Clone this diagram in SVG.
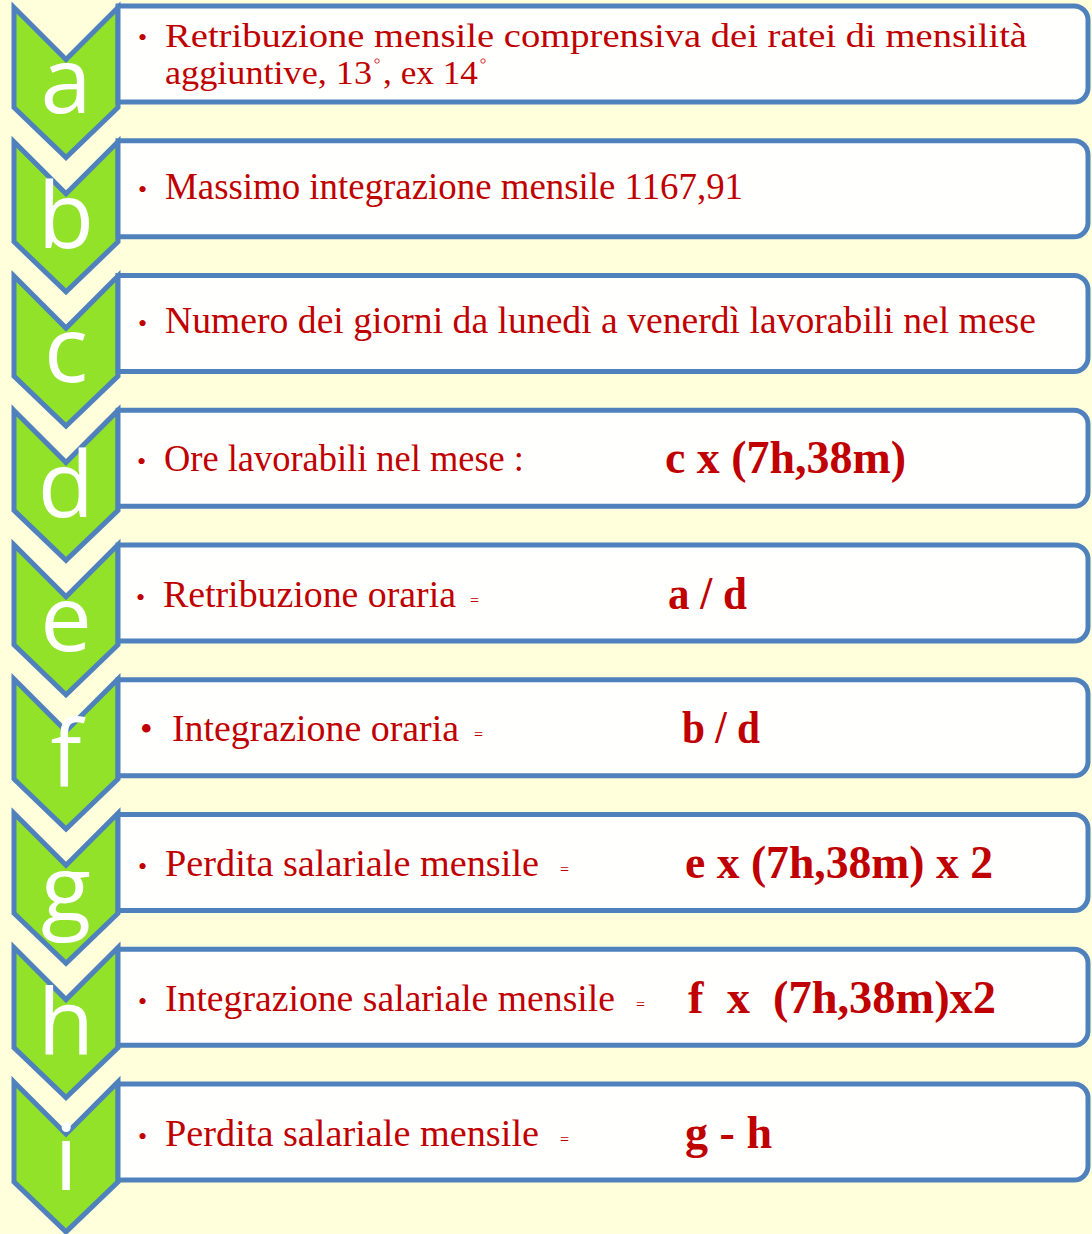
<svg xmlns="http://www.w3.org/2000/svg" xmlns:xlink="http://www.w3.org/1999/xlink" width="1092" height="1234" viewBox="0 0 1092 1234">
<style>
.bg{fill:#FFFFDC}
.chev{fill:#92E22A;stroke:#4F81BD;stroke-width:5;stroke-linejoin:miter}
.box{fill:#FFFFFE;stroke:#4F81BD;stroke-width:5;stroke-linejoin:miter}
.deg{fill:none;stroke:#C00000;stroke-width:0.8}
</style>
<defs>
<polygon id="chevShape" points="14,0 66,52 118,0 118,100 66,150 14,100"/>
<path id="boxShape" d="M118,0 H1074 A14,14 0 0 1 1088,14 V82 A14,14 0 0 1 1074,96 H118 Z"/>
</defs>
<rect class="bg" x="0" y="0" width="1092" height="1234"/>
<g id="connectors"></g>

<g id="node-a">
<use xlink:href="#chevShape" class="chev" y="7.5"/>
<use xlink:href="#boxShape" class="box" y="6"/>
<text x="66" y="113" font-family="Open Sans, sans-serif" font-size="92" fill="#FFFFFF" text-anchor="middle">a</text>
<text x="138" y="46" font-family="Liberation Serif, serif" font-size="26" fill="#C00000">•</text>
<text x="165" y="47" font-family="Liberation Serif, serif" font-size="33" fill="#C00000" textLength="862" lengthAdjust="spacingAndGlyphs">Retribuzione mensile comprensiva  dei ratei   di mensilità</text>
<text x="165" y="84" font-family="Liberation Serif, serif" font-size="33" fill="#C00000" textLength="207" lengthAdjust="spacingAndGlyphs">aggiuntive, 13</text>
<circle class="deg" cx="377" cy="61" r="2.2"/>
<text x="383" y="84" font-family="Liberation Serif, serif" font-size="33" fill="#C00000" textLength="95" lengthAdjust="spacingAndGlyphs">, ex 14</text>
<circle class="deg" cx="483" cy="61" r="2.2"/>
</g>

<g id="node-b">
<use xlink:href="#chevShape" class="chev" y="141.8"/>
<use xlink:href="#boxShape" class="box" y="140.75"/>
<text x="66" y="247.6" font-family="Open Sans, sans-serif" font-size="92" fill="#FFFFFF" text-anchor="middle">b</text>
<text x="138" y="198" font-family="Liberation Serif, serif" font-size="26" fill="#C00000">•</text>
<text x="165" y="199" font-family="Liberation Serif, serif" font-size="37" fill="#C00000" textLength="578" lengthAdjust="spacingAndGlyphs">Massimo integrazione mensile  1167,91</text>
</g>

<g id="node-c">
<use xlink:href="#chevShape" class="chev" y="276.1"/>
<use xlink:href="#boxShape" class="box" y="275.5"/>
<text x="66" y="382.2" font-family="Open Sans, sans-serif" font-size="92" fill="#FFFFFF" text-anchor="middle">c</text>
<text x="138" y="332" font-family="Liberation Serif, serif" font-size="26" fill="#C00000">•</text>
<text x="165" y="333" font-family="Liberation Serif, serif" font-size="37" fill="#C00000" textLength="871" lengthAdjust="spacingAndGlyphs">Numero dei giorni da lunedì a venerdì  lavorabili nel mese</text>
</g>

<g id="node-d">
<use xlink:href="#chevShape" class="chev" y="410.4"/>
<use xlink:href="#boxShape" class="box" y="410.25"/>
<text x="66" y="516.8" font-family="Open Sans, sans-serif" font-size="92" fill="#FFFFFF" text-anchor="middle">d</text>
<text x="137" y="470" font-family="Liberation Serif, serif" font-size="26" fill="#C00000">•</text>
<text x="164" y="471" font-family="Liberation Serif, serif" font-size="37" fill="#C00000" textLength="360" lengthAdjust="spacingAndGlyphs">Ore lavorabili nel mese :</text>
<text x="665" y="473" font-family="Liberation Serif, serif" font-size="46" font-weight="bold" fill="#C00000" textLength="241" lengthAdjust="spacingAndGlyphs">c x (7h,38m)</text>
</g>

<g id="node-e">
<use xlink:href="#chevShape" class="chev" y="544.7"/>
<use xlink:href="#boxShape" class="box" y="545"/>
<text x="66" y="651.4" font-family="Open Sans, sans-serif" font-size="92" fill="#FFFFFF" text-anchor="middle">e</text>
<text x="136" y="606" font-family="Liberation Serif, serif" font-size="26" fill="#C00000">•</text>
<text x="163" y="607" font-family="Liberation Serif, serif" font-size="37" fill="#C00000" textLength="293" lengthAdjust="spacingAndGlyphs">Retribuzione oraria</text>
<text x="470" y="606" font-family="Liberation Serif, serif" font-size="16" fill="#C00000">=</text>
<text x="668" y="609" font-family="Liberation Serif, serif" font-size="46" font-weight="bold" fill="#C00000" textLength="79" lengthAdjust="spacingAndGlyphs">a / d</text>
</g>

<g id="node-f">
<use xlink:href="#chevShape" class="chev" y="679"/>
<use xlink:href="#boxShape" class="box" y="679.75"/>
<text x="66" y="786" font-family="Open Sans, sans-serif" font-size="92" fill="#FFFFFF" text-anchor="middle">f</text>
<text x="140" y="741" font-family="Liberation Serif, serif" font-size="36" fill="#C00000">•</text>
<text x="172" y="741" font-family="Liberation Serif, serif" font-size="37" fill="#C00000" textLength="287" lengthAdjust="spacingAndGlyphs">Integrazione oraria</text>
<text x="474" y="740" font-family="Liberation Serif, serif" font-size="16" fill="#C00000">=</text>
<text x="682" y="743" font-family="Liberation Serif, serif" font-size="46" font-weight="bold" fill="#C00000" textLength="78" lengthAdjust="spacingAndGlyphs">b / d</text>
</g>

<g id="node-g">
<use xlink:href="#chevShape" class="chev" y="813.3"/>
<use xlink:href="#boxShape" class="box" y="814.5"/>
<text x="66" y="920.6" font-family="Open Sans, sans-serif" font-size="92" fill="#FFFFFF" text-anchor="middle">g</text>
<text x="138" y="875" font-family="Liberation Serif, serif" font-size="26" fill="#C00000">•</text>
<text x="165" y="876" font-family="Liberation Serif, serif" font-size="37" fill="#C00000" textLength="374" lengthAdjust="spacingAndGlyphs">Perdita salariale mensile</text>
<text x="560" y="875" font-family="Liberation Serif, serif" font-size="16" fill="#C00000">=</text>
<text x="685" y="878" font-family="Liberation Serif, serif" font-size="46" font-weight="bold" fill="#C00000" textLength="308" lengthAdjust="spacingAndGlyphs">e x (7h,38m) x 2</text>
</g>

<g id="node-h">
<use xlink:href="#chevShape" class="chev" y="947.6"/>
<use xlink:href="#boxShape" class="box" y="949.25"/>
<text x="66" y="1055.2" font-family="Open Sans, sans-serif" font-size="92" fill="#FFFFFF" text-anchor="middle">h</text>
<text x="138" y="1010" font-family="Liberation Serif, serif" font-size="26" fill="#C00000">•</text>
<text x="165" y="1011" font-family="Liberation Serif, serif" font-size="37" fill="#C00000" textLength="450" lengthAdjust="spacingAndGlyphs">Integrazione salariale mensile</text>
<text x="636" y="1010" font-family="Liberation Serif, serif" font-size="16" fill="#C00000">=</text>
<text x="688" y="1013" font-family="Liberation Serif, serif" font-size="46" font-weight="bold" fill="#C00000" textLength="308" lengthAdjust="spacingAndGlyphs" xml:space="preserve">f  x  (7h,38m)x2</text>
</g>

<g id="node-i">
<use xlink:href="#chevShape" class="chev" y="1081.9"/>
<use xlink:href="#boxShape" class="box" y="1084"/>
<text x="66" y="1189.8" font-family="Open Sans, sans-serif" font-size="92" fill="#FFFFFF" text-anchor="middle">i</text>
<text x="138" y="1145" font-family="Liberation Serif, serif" font-size="26" fill="#C00000">•</text>
<text x="165" y="1146" font-family="Liberation Serif, serif" font-size="37" fill="#C00000" textLength="374" lengthAdjust="spacingAndGlyphs">Perdita salariale mensile</text>
<text x="560" y="1145" font-family="Liberation Serif, serif" font-size="16" fill="#C00000">=</text>
<text x="685" y="1148" font-family="Liberation Serif, serif" font-size="46" font-weight="bold" fill="#C00000" textLength="87" lengthAdjust="spacingAndGlyphs">g - h</text>
</g>
</svg>
